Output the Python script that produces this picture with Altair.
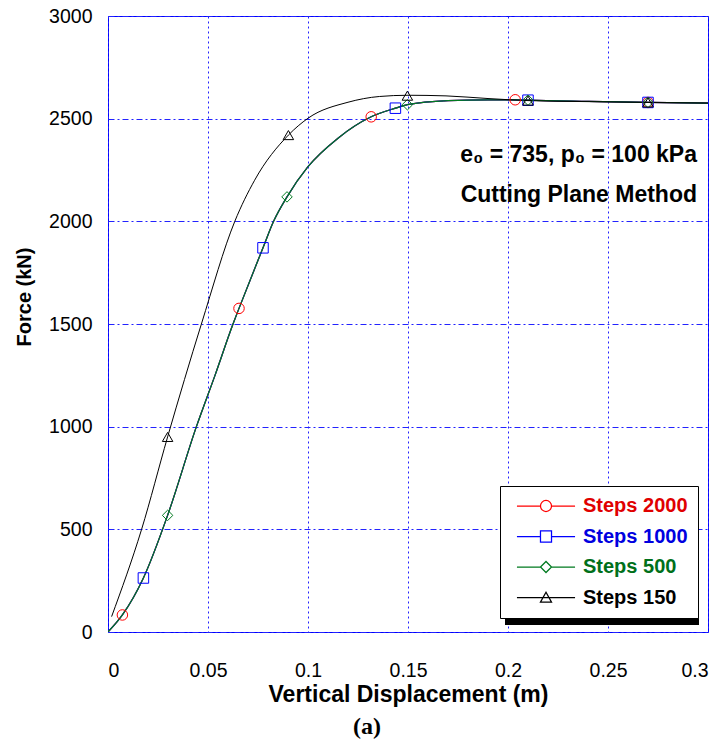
import altair as alt
import pandas as pd

# ---------------- data ----------------
series = ["Steps 2000", "Steps 1000", "Steps 500", "Steps 150"]
line_colors = ["#ff0000", "#0000ff", "#007a1f", "#000000"]
label_colors = ["#e00000", "#0000e0", "#00701a", "#000000"]
marker_shapes = ["circle", "square", "diamond", "triangle-up"]

# fine-step solution (2000 / 1000 / 500 steps all follow this curve)
fine_x = [0, 0.0072, 0.0177, 0.0298, 0.0442, 0.0535, 0.0625, 0.0655, 0.0775, 0.0828,
          0.0895, 0.1, 0.115, 0.1316, 0.1437, 0.1497, 0.17, 0.19, 0.2036, 0.21, 0.24, 0.27, 0.3]
fine_y = [0, 83, 263, 568, 1000, 1250, 1500, 1576, 1871, 2000,
          2119, 2266, 2405, 2509, 2551, 2568, 2588, 2592, 2592, 2590, 2584, 2579, 2576]

# coarse-step solution (150 steps)
coarse_x = [0.0018, 0.0168, 0.0298, 0.0467, 0.0634, 0.0733, 0.0902, 0.1, 0.12, 0.1357,
            0.15, 0.169, 0.19, 0.21, 0.24, 0.27, 0.3]
coarse_y = [75, 500, 950, 1500, 2000, 2200, 2420, 2502, 2580, 2608,
            2614, 2611, 2598, 2588, 2583, 2579, 2576]

# marker positions per series
mk_2000_x = [0.0072, 0.0655, 0.1316, 0.2036, 0.27]
mk_2000_y = [83, 1576, 2509, 2592, 2579]
mk_1000_x = [0.0177, 0.0775, 0.1437, 0.21, 0.27]
mk_1000_y = [263, 1871, 2551, 2590, 2579]
mk_500_x = [0.0298, 0.0895, 0.1497, 0.21, 0.27]
mk_500_y = [568, 2119, 2568, 2590, 2579]
mk_150_x = [0.0298, 0.0902, 0.1497, 0.21, 0.27]
mk_150_y = [950, 2420, 2612, 2588, 2579]

x_ticks = [0, 0.05, 0.1, 0.15, 0.2, 0.25, 0.3]
y_ticks = [0, 500, 1000, 1500, 2000, 2500, 3000]

annot_lines = ["e\u2080 = 735, p\u2080 = 100 kPa", "Cutting Plane Method"]
annot_x = [0.2945, 0.2945]
annot_y = [2290, 2096]

# ---------------- build tables ----------------
line_sets = [(fine_x, fine_y), (fine_x, fine_y), (fine_x, fine_y), (coarse_x, coarse_y)]
marker_sets = [(mk_2000_x, mk_2000_y), (mk_1000_x, mk_1000_y),
               (mk_500_x, mk_500_y), (mk_150_x, mk_150_y)]

GRID_BLUE = "#2222ff"

X = alt.X("x:Q", scale=alt.Scale(domain=[0, 0.3], nice=False, zero=False),
          axis=alt.Axis(values=x_ticks, format="~g", title="Vertical Displacement (m)",
                        titleFontSize=23, titlePadding=4, labelPadding=29,
                        gridColor=GRID_BLUE, gridDash=[2, 3]))
Y = alt.Y("y:Q", scale=alt.Scale(domain=[0, 3000], nice=False),
          axis=alt.Axis(values=y_ticks, format="d", title="Force (kN)",
                        titleFontSize=20, titleY=280.5, titlePadding=14, labelPadding=16,
                        gridColor=GRID_BLUE, gridDash=[6, 3, 2, 3]))

layers = []
# legend shadow (decoration)
layers.append(
    alt.Chart(alt.Data(values=[{}])).mark_rect(color="black").encode(
        x=alt.value(397), x2=alt.value(591), y=alt.value(476), y2=alt.value(609)
    )
)
for i, s in enumerate(series):
    lx, ly = line_sets[i]
    df = pd.DataFrame({"x": lx, "y": ly, "i": range(len(lx))})
    layers.append(
        alt.Chart(df).mark_line(color=line_colors[i], strokeWidth=1.2 if i < 3 else 1,
                                interpolate="monotone", clip=True)
        .encode(x=X, y=Y, order="i:Q")
    )
for i, s in enumerate(series):
    mx, my = marker_sets[i]
    df = pd.DataFrame({"x": mx, "y": my})
    layers.append(
        alt.Chart(df).mark_point(shape=marker_shapes[i], color=line_colors[i], filled=False,
                                 size=110, strokeWidth=1, opacity=1)
        .encode(x=X, y=Y)
    )

# legend-only layer (points lie outside the domain and are clipped)
legend_paths = [
    "M-5,0L-0.95,0M0.95,0L5,0M-0.95,0A0.95,0.95,0,1,1,0.95,0A0.95,0.95,0,1,1,-0.95,0",
    "M-5,0L-0.95,0M0.95,0L5,0M-0.95,-0.95L0.95,-0.95L0.95,0.95L-0.95,0.95Z",
    "M-5,0L-0.95,0M0.95,0L5,0M-0.95,0L0,-0.95L0.95,0L0,0.95Z",
    "M-5,0L5,0M-0.95,0.8L0,-0.9L0.95,0.8Z",
]
label_expr = ("datum.label == 'Steps 2000' ? '%s' : datum.label == 'Steps 1000' ? '%s' : "
              "datum.label == 'Steps 500' ? '%s' : '%s'") % tuple(label_colors)
legend = alt.Legend(
    title=None, orient="none", legendX=392, legendY=470, padding=10,
    symbolOffset=26, labelOffset=27, symbolSize=135, symbolStrokeWidth=1.25, symbolOpacity=1,
    labelFont="Liberation Sans", labelFontSize=20, labelFontWeight="bold",
    labelColor={"expr": label_expr}, rowPadding=10.5,
    strokeColor="black", fillColor="white", cornerRadius=0,
)
leg_df = pd.DataFrame({"x": [-1] * 4, "y": [-1000] * 4, "series": series})
layers.append(
    alt.Chart(leg_df).mark_point(filled=False, size=135, clip=True, strokeWidth=1.25, opacity=1)
    .encode(
        x=X, y=Y,
        color=alt.Color("series:N", scale=alt.Scale(domain=series, range=line_colors), legend=legend),
        shape=alt.Shape("series:N", scale=alt.Scale(domain=series, range=legend_paths), legend=legend),
    )
)

# annotation text
ann_df = pd.DataFrame({"x": annot_x, "y": annot_y, "t": annot_lines})
layers.append(
    alt.Chart(ann_df).mark_text(align="right", baseline="alphabetic", font="Liberation Sans",
                                fontSize=23, fontWeight="bold", color="black")
    .encode(x=X, y=Y, text="t:N")
)

chart = alt.layer(*layers).properties(
    width=600, height=616,
    autosize=alt.AutoSizeParams(type="none"),
    padding={"left": 100, "top": 8, "right": 10, "bottom": 113},
    title=alt.TitleParams(text="(a)", orient="bottom", font="Liberation Serif", fontSize=24,
                          fontWeight="bold", dx=-41, offset=8, color="black"),
).configure_view(
    stroke="#0000ff", strokeWidth=1
).configure_axis(
    labelFont="Liberation Sans", labelFontSize=19.5, labelColor="black",
    titleFont="Liberation Sans", titleFontWeight="bold", titleColor="black",
    domain=False, ticks=False, grid=True, gridColor=GRID_BLUE, gridOpacity=1, gridWidth=1,
)

chart.save("out.html", embed_options={"renderer": "svg", "actions": False})
